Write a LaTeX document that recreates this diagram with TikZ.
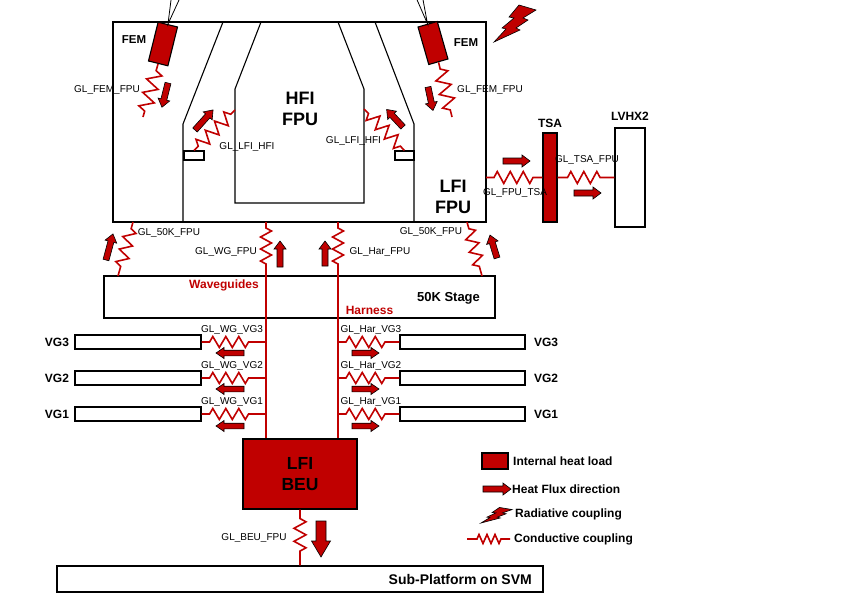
\documentclass[tikz,border=0pt]{standalone}
\usepackage{fontspec}
\setmainfont{Liberation Sans}
\usetikzlibrary{decorations.pathmorphing,calc}
\definecolor{hred}{RGB}{192,0,0}
\tikzset{
  boxs/.style={draw=black, line width=1.1pt, fill=white, inner sep=0pt},
  redbox/.style={draw=black, line width=1.1pt, fill=hred, inner sep=0pt},
  ln/.style={draw=black, line width=1.1pt},
  zz/.style={draw=hred, line width=1.6pt, decorate,
    decoration={zigzag, amplitude=6pt, segment length=13pt, pre length=7pt, post length=5pt}},
  wire/.style={draw=hred, line width=2pt},
  hf/.style={draw=black, line width=0.6pt, fill=hred},
  gl/.style={font=\fontsize{10}{12}\selectfont, inner sep=0pt},
  lab/.style={font=\fontsize{12}{14}\selectfont\bfseries, inner sep=0pt},
  redlab/.style={lab, text=hred},
  bigl/.style={font=\fontsize{18}{21.6}\selectfont\bfseries, align=center, inner sep=0pt},
  boltpic/.pic={\draw[draw=black, line width=0.6pt, fill=hred]
    (0,0) -- (12,-13) -- (8,-14) -- (20,-24) -- (15,-25) -- (25,-37) -- (42,-32)
    -- (29,-24) -- (34,-22) -- (22,-14) -- (26,-12) -- cycle;}
}
\newcommand\hfarrow[7]{\draw[hf, shift={(#1,#2)}, rotate=#3]
  (0,-#5) -- (#4-#7,-#5) -- (#4-#7,-#6) -- (#4,0) -- (#4-#7,#6) -- (#4-#7,#5) -- (0,#5) -- cycle;}
\begin{document}
\begin{tikzpicture}[x=1pt,y=-1pt]
\useasboundingbox (0,0) rectangle (850,602);

% ---------- LFI FPU ----------
\node[boxs, minimum width=373pt, minimum height=200pt] (lfi) at (299.5,122) {};
\draw[ln] (223,22) -- (183,124) -- (183,222);
\draw[ln] (375,22) -- (414,124) -- (414,222);
\draw[ln] (261,22) -- (235,89) -- (235,203) -- (364,203) -- (364,89) -- (338,22);
\node[boxs, minimum width=20pt, minimum height=9pt] (ledgeL) at (194,155.5) {};
\node[boxs, minimum width=19pt, minimum height=9pt] (ledgeR) at (404.5,155.5) {};
\node[bigl] (hfitxt) at (300,109) {HFI\\FPU};
\node[bigl] (lfitxt) at (453,197) {LFI\\FPU};

% FEMs
\node[redbox, minimum width=20pt, minimum height=40pt, rotate=-14] (femL) at (163,44) {};
\node[redbox, minimum width=20pt, minimum height=39pt, rotate=16] (femR) at (433,43) {};
\coordinate (vl1) at (171.4,-3); \coordinate (vl2) at (180.4,-3);
\coordinate (vr1) at (415.8,-3); \coordinate (vr2) at (422.5,-3);
\draw[ln, line width=0.8pt] (vl1) -- (femL.north) -- (vl2);
\draw[ln, line width=0.8pt] (vr1) -- (femR.north) -- (vr2);
\node[lab, font=\fontsize{11.5}{13}\selectfont\bfseries] (femLt) at (134,40) {FEM};
\node[lab, font=\fontsize{11.5}{13}\selectfont\bfseries] (femRt) at (466,43) {FEM};

\coordinate (cFemL) at (143,117);
\coordinate (cFemR) at (452,117);
\draw[zz, decoration={segment length=14pt, amplitude=7pt}] (femL.south) -- (cFemL);
\draw[zz, decoration={segment length=14pt, amplitude=7pt}] (femR.south) -- (cFemR);
\node[gl] (glfemL) at (107,90) {GL\_FEM\_FPU};
\node[gl] (glfemR) at (490,90) {GL\_FEM\_FPU};
\hfarrow{168}{83}{-104}{25}{3}{6}{8}
\hfarrow{428}{87}{-78}{24}{3}{6}{8}

% LFI-HFI
\coordinate (hfiL) at (235,110);
\coordinate (hfiR) at (364,109);
\draw[zz, decoration={segment length=13pt, amplitude=6.5pt, pre length=6pt, post length=5pt}] (ledgeL.north) -- (hfiL);
\draw[zz, decoration={segment length=13pt, amplitude=6.5pt, pre length=6pt, post length=5pt}] (ledgeR.north) -- (hfiR);
\node[gl] (gllhL) at (247,147) {GL\_LFI\_HFI};
\node[gl] (gllhR) at (353.5,141) {GL\_LFI\_HFI};
\hfarrow{195}{130}{48}{27}{3}{6}{8}
\hfarrow{403}{127}{133}{24}{3}{6}{8}

% ---------- TSA / LVHX2 ----------
\node[redbox, minimum width=14pt, minimum height=89pt] (tsa) at (550,177.5) {};
\node[boxs, minimum width=30pt, minimum height=99pt] (lvhx) at (630,177.5) {};
\node[lab] (tsat) at (550,123) {TSA};
\node[lab] (lvhxt) at (630,116) {LVHX2};
\coordinate (cLfiE) at (486,177.5);
\draw[zz, decoration={segment length=13pt, amplitude=6pt, pre length=8pt, post length=8pt}] (cLfiE) -- (tsa.west);
\draw[zz, decoration={segment length=13pt, amplitude=6pt, pre length=10pt, post length=9pt}] (tsa.east) -- (lvhx.west);
\node[gl] (glft) at (515,193) {GL\_FPU\_TSA};
\node[gl] (gltf) at (587,160) {GL\_TSA\_FPU};
\hfarrow{503}{161}{0}{27}{3}{6}{8}
\hfarrow{574}{193}{0}{27}{3}{6}{8}

% radiative bolt
\pic at (494,42) {boltpic};

% ---------- 50K stage ----------
\node[boxs, minimum width=391pt, minimum height=42pt] (stage) at (299.5,297) {};
\node[lab, font=\fontsize{13}{15}\selectfont\bfseries] (staget) at (448.5,298) {50K Stage};

\coordinate (c50La) at (133,222); \coordinate (c50Lb) at (118,276);
\coordinate (c50Ra) at (467,222); \coordinate (c50Rb) at (482,276);
\coordinate (cWGa) at (266,222); \coordinate (cWGb) at (266,268); \coordinate (cWGc) at (266,439);
\coordinate (cHa) at (338,222); \coordinate (cHb) at (338,268); \coordinate (cHc) at (338,439);
\draw[zz, decoration={segment length=13pt, amplitude=6pt}] (c50La) -- (c50Lb);
\draw[zz, decoration={segment length=13pt, amplitude=6pt}] (c50Ra) -- (c50Rb);
\draw[zz, decoration={segment length=12pt, amplitude=5.5pt, pre length=6pt, post length=4pt}] (cWGa) -- (cWGb);
\draw[zz, decoration={segment length=12pt, amplitude=5.5pt, pre length=6pt, post length=4pt}] (cHa) -- (cHb);
\draw[wire] (cWGb) -- (cWGc);
\draw[wire] (cHb) -- (cHc);
\node[gl] (gl50L) at (169,233) {GL\_50K\_FPU};
\node[gl] (gl50R) at (431,232) {GL\_50K\_FPU};
\node[gl] (glwg) at (226,252) {GL\_WG\_FPU};
\node[gl] (glhar) at (380,252) {GL\_Har\_FPU};
\hfarrow{106}{260}{75}{27}{3}{6}{8}
\hfarrow{280}{267}{90}{26}{3}{6}{8}
\hfarrow{325}{266}{90}{25}{3}{6}{8}
\hfarrow{497}{258}{107}{24}{3}{6}{8}
\node[redlab] (wgt) at (224,285) {Waveguides};
\node[redlab] (hart) at (369.5,310) {Harness};

% ---------- VG rows ----------
\foreach \n/\y/\ay in {3/342/353, 2/378/389, 1/414/426}{
  \node[boxs, minimum width=126pt, minimum height=14pt] (vgL\n) at (138,\y) {};
  \node[boxs, minimum width=125pt, minimum height=14pt] (vgR\n) at (462.5,\y) {};
  \node[lab] (vgLt\n) at (57,\y) {VG\n};
  \node[lab] (vgRt\n) at (546,\y) {VG\n};
  \coordinate (cw\n) at (266,\y);
  \coordinate (ch\n) at (338,\y);
  \draw[zz, decoration={segment length=13pt, amplitude=5.5pt, pre length=8pt, post length=12pt}] (vgL\n.east) -- (cw\n);
  \draw[zz, decoration={segment length=13pt, amplitude=5.5pt, pre length=8pt, post length=12pt}] (ch\n) -- (vgR\n.west);
  \node[gl] (glwgv\n) at (232,\y-12) {GL\_WG\_VG\n};
  \node[gl] (glhv\n) at (371,\y-12) {GL\_Har\_VG\n};
  \hfarrow{244}{\ay}{180}{28}{2.8}{5.5}{8}
  \hfarrow{352}{\ay}{0}{27}{2.8}{5.5}{8}
}

% ---------- BEU ----------
\node[redbox, minimum width=114pt, minimum height=70pt] (beu) at (300,474) {};
\node[bigl, font=\fontsize{17.5}{21.5}\selectfont\bfseries] (beut) at (300,474) {LFI\\BEU};
\node[boxs, minimum width=486pt, minimum height=26pt] (plat) at (300,579) {};
\node[lab, font=\fontsize{14}{16}\selectfont\bfseries, anchor=east] (platt) at (532,579) {Sub-Platform on SVM};
\draw[zz, decoration={segment length=13pt, amplitude=6pt, pre length=9pt, post length=9pt}] (beu.south) -- (plat.north);
\node[gl] (glbeu) at (254,538) {GL\_BEU\_FPU};
\hfarrow{321}{521}{-90}{36}{5}{9.5}{16}

% ---------- Legend ----------
\node[redbox, minimum width=26pt, minimum height=16pt] (lgbox) at (495,461) {};
\node[lab, anchor=west] (lg1) at (513,461) {Internal heat load};
\hfarrow{483}{489}{0}{28}{3}{6}{8}
\node[lab, anchor=west] (lg2) at (512,489) {Heat Flux direction};
\pic[xscale=0.74, yscale=0.42] at (481,523) {boltpic};
\node[lab, anchor=west] (lg3) at (515,514) {Radiative coupling};
\coordinate (lz1) at (467,539); \coordinate (lz2) at (510,539);
\draw[zz, decoration={segment length=8pt, amplitude=4.5pt, pre length=10pt, post length=9pt}] (lz1) -- (lz2);
\node[lab, anchor=west] (lg4) at (514,539) {Conductive coupling};
\end{tikzpicture}
\end{document}
